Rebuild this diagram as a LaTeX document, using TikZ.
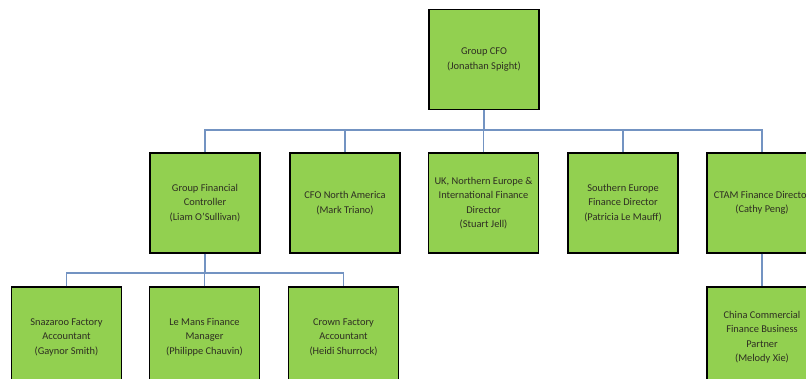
\documentclass[tikz,border=0pt]{standalone}
\usepackage{fontspec}
\setmainfont{Carlito}
\definecolor{boxgreen}{HTML}{92D050}
\definecolor{linkblue}{HTML}{7393C2}
\definecolor{txt}{HTML}{2E2E22}
\tikzset{
  orgbox/.style={draw=black, line width=1.2pt, fill=boxgreen, minimum width=110pt, minimum height=100pt,
    inner sep=0pt, align=center, text=txt, font=\fontsize{10.4}{14.5}\selectfont},
  link/.style={draw=linkblue, line width=1.1pt}
}
\begin{document}
\begin{tikzpicture}[x=1pt,y=-1pt]
\clip (0,0) rectangle (806,378);
\fill[white] (0,0) rectangle (806,378);
\node[orgbox] (cfo) at (484,59.5) {Group CFO\\(Jonathan Spight)};
\node[orgbox] (gfc) at (205,203) {Group Financial\\Controller\\(Liam O'Sullivan)};
\node[orgbox] (na) at (345,203) {CFO North America\\(Mark Triano)};
\node[orgbox] (uk) at (483.5,203) {UK, Northern Europe \&\\International Finance\\Director\\(Stuart Jell)};
\node[orgbox] (se) at (623,203) {Southern Europe\\Finance Director\\(Patricia Le Mauff)};
\node[orgbox] (ctam) at (762,203) {CTAM Finance Director\\(Cathy Peng)};
\node[orgbox] (sn) at (66.5,337) {Snazaroo Factory\\Accountant\\(Gaynor Smith)};
\node[orgbox] (lm) at (204.5,337) {Le Mans Finance\\Manager\\(Philippe Chauvin)};
\node[orgbox] (cr) at (343.5,337) {Crown Factory\\Accountant\\(Heidi Shurrock)};
\node[orgbox] (cn) at (762,337) {China Commercial\\Finance Business\\Partner\\(Melody Xie)};
\coordinate (bus1) at (0,130);
\coordinate (bus2) at (0,273);
\draw[link] (cfo.south) -- (cfo.south |- bus1);
\draw[link] (gfc.north) |- (ctam.north |- bus1) -- (ctam.north);
\foreach \n in {na,uk,se} \draw[link] (\n.north) -- (\n.north |- bus1);
\draw[link] (gfc.south) -- (gfc.south |- bus2);
\draw[link] (sn.north) |- (cr.north |- bus2) -- (cr.north);
\draw[link] (lm.north) -- (lm.north |- bus2);
\draw[link] (ctam.south) -- (cn.north);
\end{tikzpicture}
\end{document}
